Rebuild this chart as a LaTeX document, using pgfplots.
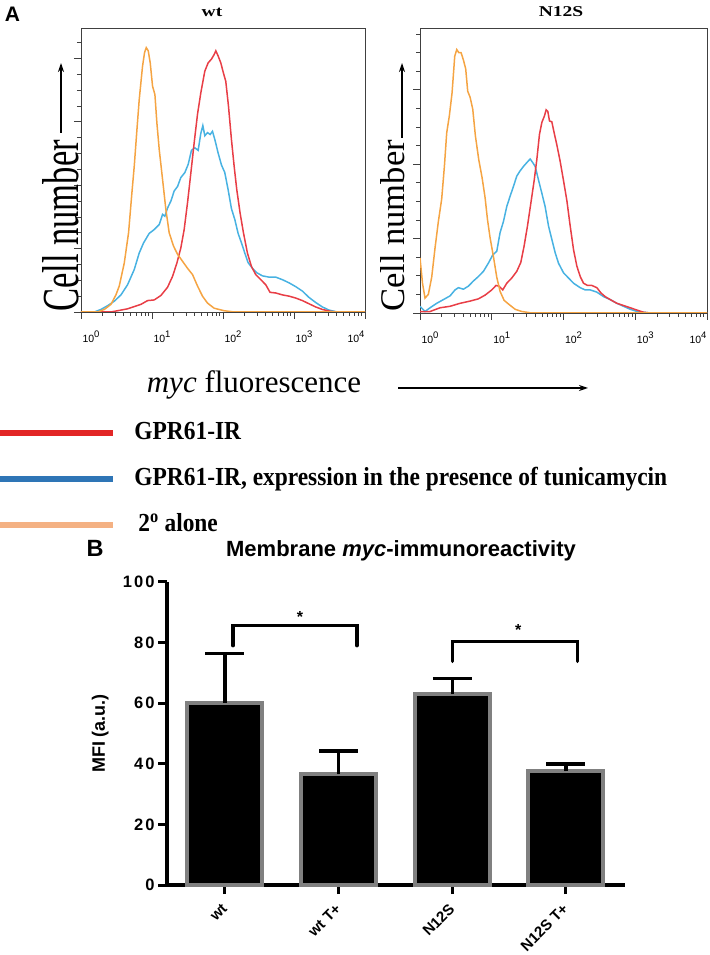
\documentclass[border=0pt]{standalone}
\usepackage{pgfplots}
\pgfplotsset{compat=1.18}
\usepackage{fontspec}
\setmainfont{Liberation Serif}
\newfontfamily\arialfont{Liberation Sans}
\newfontfamily\arialsp[LetterSpace=12]{Liberation Sans}
\usetikzlibrary{arrows.meta}
\definecolor{hred}{RGB}{232,62,70}
\definecolor{hblue}{RGB}{72,178,226}
\definecolor{horange}{RGB}{245,164,67}
\definecolor{lred}{RGB}{226,38,38}
\definecolor{lblue}{RGB}{46,117,182}
\definecolor{lorange}{RGB}{244,177,131}
\definecolor{bargray}{RGB}{128,128,128}
\newcommand\tl[1]{{\arialfont\fontsize{10.5}{10.5}\selectfont 10\raisebox{5pt}{\fontsize{9.5}{9.5}\selectfont #1}}}
\pgfplotsset{hist/.style={scale only axis, xmin=0, xmax=4, ymin=0,
  axis line style={black!75, line width=0.8pt}, tick style={black!75, line width=0.7pt},
  tick align=outside, tick pos=left, major tick length=7pt, minor tick length=4pt,
  xtick={0,1,2,3,4},
  minor xtick={0.301,0.477,0.602,0.699,0.778,0.845,0.903,0.954,1.301,1.477,1.602,1.699,1.778,1.845,1.903,1.954,2.301,2.477,2.602,2.699,2.778,2.845,2.903,2.954,3.301,3.477,3.602,3.699,3.778,3.845,3.903,3.954},
  xticklabels={\tl{0},\tl{1},\tl{2},\tl{3},\hspace*{-38pt}\tl{4}},
  xticklabel style={xshift=10pt, yshift=-8pt},
  ytick={0,1,2,3,4}, yticklabels={},
  every axis plot/.append style={line width=1.5pt, no markers},
  clip=true}}
\begin{document}
\begin{tikzpicture}[x=1pt,y=1pt]
\path[use as bounding box] (0,0) rectangle (709,955);
% ---------------- wt histogram
\begin{axis}[hist, at={(81pt,643pt)}, anchor=south west, width=284pt, height=284pt, ymax=4.48,
  minor ytick={0.25,0.5,0.75,1.25,1.5,1.75,2.25,2.5,2.75,3.25,3.5,3.75,4.25},
  legend style={at={(axis description cs:-0.2958,-0.384)}, anchor=north west, draw=none, fill=none,
    inner sep=0pt, outer sep=0pt, row sep=22pt, column sep=19pt,
    nodes={inner sep=0pt, text height=18pt, text depth=6pt},
    font=\bfseries\fontsize{26}{26}\selectfont},
  legend cell align=left,
  legend image code/.code={\draw[#1] (0pt,0pt) -- (113pt,0pt);}]
\addplot[color=hblue, forget plot] coordinates {(0,0)(0.188,0)(0.281,0.04)(0.375,0.10)(0.469,0.17)(0.563,0.27)(0.656,0.43)(0.750,0.67)(0.820,0.93)(0.881,1.09)(0.961,1.24)(1.031,1.30)(1.102,1.38)(1.149,1.54)(1.181,1.51)(1.219,1.64)(1.266,1.75)(1.313,1.91)(1.360,1.98)(1.406,2.12)(1.463,2.20)(1.510,2.33)(1.556,2.55)(1.603,2.59)(1.650,2.55)(1.688,2.82)(1.716,2.94)(1.744,2.78)(1.782,2.83)(1.819,2.80)(1.852,2.85)(1.885,2.72)(1.931,2.51)(1.978,2.32)(2.025,2.20)(2.072,1.93)(2.119,1.63)(2.166,1.46)(2.213,1.24)(2.260,1.09)(2.307,0.93)(2.353,0.78)(2.414,0.69)(2.475,0.62)(2.555,0.57)(2.649,0.55)(2.743,0.55)(2.836,0.51)(2.930,0.46)(3.024,0.40)(3.118,0.33)(3.211,0.23)(3.305,0.15)(3.399,0.08)(3.493,0.03)(3.610,0)(4,0)};
\addplot[color=hred, forget plot] coordinates {(0,0)(0.422,0)(0.656,0.05)(0.844,0.12)(0.938,0.18)(1.031,0.19)(1.125,0.26)(1.219,0.39)(1.289,0.56)(1.350,0.77)(1.406,1.01)(1.453,1.30)(1.500,1.72)(1.547,2.19)(1.594,2.67)(1.641,3.12)(1.688,3.46)(1.744,3.80)(1.791,3.93)(1.838,3.99)(1.875,4.06)(1.899,4.12)(1.931,4.04)(1.969,3.93)(2.006,3.77)(2.039,3.64)(2.077,3.25)(2.119,2.72)(2.157,2.30)(2.194,1.93)(2.241,1.56)(2.288,1.25)(2.344,0.93)(2.400,0.72)(2.461,0.59)(2.532,0.51)(2.602,0.43)(2.663,0.31)(2.743,0.30)(2.836,0.27)(2.930,0.25)(3.024,0.22)(3.118,0.18)(3.211,0.13)(3.305,0.08)(3.399,0.04)(3.516,0.01)(3.610,0)(4,0)};
\addplot[color=horange, forget plot] coordinates {(0,0)(0.234,0)(0.328,0.04)(0.422,0.12)(0.492,0.27)(0.539,0.41)(0.609,0.77)(0.670,1.25)(0.717,1.88)(0.750,2.30)(0.788,2.88)(0.820,3.35)(0.867,3.88)(0.895,4.09)(0.919,4.17)(0.947,4.12)(0.975,3.93)(1.008,3.56)(1.041,3.43)(1.069,2.98)(1.102,2.56)(1.149,2.09)(1.195,1.62)(1.242,1.25)(1.303,1.04)(1.360,0.91)(1.430,0.80)(1.500,0.69)(1.571,0.59)(1.641,0.41)(1.711,0.25)(1.782,0.14)(1.875,0.06)(2.016,0.02)(2.157,0)(4,0)};
\addlegendimage{lred, line width=5.5pt}
\addlegendentry{\scalebox{0.9}[1]{GPR61-IR}}
\addlegendimage{lblue, line width=5.5pt}
\addlegendentry{\scalebox{0.9}[1]{GPR61-IR, expression in the presence of tunicamycin}}
\addlegendimage{lorange, line width=5.5pt}
\addlegendentry{\scalebox{0.9}[1]{\,2\textsuperscript{o} alone}}
\end{axis}
% ---------------- N12S histogram
\begin{axis}[hist, at={(420pt,642pt)}, anchor=south west, width=287pt, height=285pt, ymax=3.83,
  minor ytick={0.25,0.5,0.75,1.25,1.5,1.75,2.25,2.5,2.75,3.25,3.5,3.75}]
\addplot[color=hblue] coordinates {(0,0.09)(0.070,0.02)(0.140,0.07)(0.233,0.13)(0.326,0.18)(0.419,0.23)(0.488,0.31)(0.535,0.34)(0.605,0.32)(0.674,0.36)(0.744,0.43)(0.814,0.49)(0.884,0.56)(0.953,0.67)(1.014,0.78)(1.070,0.83)(1.116,1.08)(1.163,1.23)(1.209,1.43)(1.256,1.57)(1.302,1.70)(1.349,1.84)(1.395,1.91)(1.442,1.97)(1.488,2.02)(1.535,2.07)(1.572,2.02)(1.605,1.97)(1.651,1.79)(1.698,1.61)(1.744,1.43)(1.791,1.17)(1.837,0.99)(1.884,0.81)(1.930,0.67)(2.000,0.54)(2.070,0.47)(2.140,0.40)(2.233,0.34)(2.302,0.31)(2.372,0.31)(2.465,0.28)(2.558,0.22)(2.651,0.18)(2.744,0.13)(2.837,0.09)(2.930,0.05)(3.023,0.02)(3.116,0.01)(3.209,0)(4,0)};
\addplot[color=hred] coordinates {(0,0.02)(0.140,0.02)(0.279,0.07)(0.419,0.09)(0.558,0.13)(0.698,0.16)(0.814,0.19)(0.907,0.24)(1.000,0.31)(1.060,0.37)(1.102,0.36)(1.153,0.31)(1.209,0.40)(1.279,0.47)(1.349,0.56)(1.405,0.68)(1.451,0.90)(1.498,1.17)(1.544,1.47)(1.591,1.78)(1.628,2.06)(1.665,2.40)(1.698,2.56)(1.735,2.65)(1.758,2.73)(1.781,2.71)(1.805,2.58)(1.837,2.57)(1.870,2.42)(1.907,2.26)(1.953,2.04)(2.000,1.78)(2.047,1.51)(2.093,1.17)(2.140,0.85)(2.186,0.63)(2.233,0.49)(2.279,0.40)(2.335,0.37)(2.395,0.37)(2.465,0.34)(2.521,0.27)(2.581,0.22)(2.651,0.18)(2.744,0.13)(2.837,0.10)(2.930,0.07)(3.023,0.04)(3.116,0.01)(3.209,0)(4,0)};
\addplot[color=horange] coordinates {(0,0.74)(0.035,0.40)(0.070,0.20)(0.116,0.25)(0.163,0.48)(0.209,0.87)(0.256,1.23)(0.302,1.53)(0.340,1.97)(0.372,2.42)(0.409,2.65)(0.447,2.96)(0.484,3.45)(0.512,3.54)(0.540,3.50)(0.572,3.50)(0.605,3.40)(0.637,3.28)(0.665,2.98)(0.698,2.90)(0.735,2.74)(0.772,2.38)(0.819,2.06)(0.865,1.82)(0.907,1.55)(0.940,1.26)(0.977,1.01)(1.023,0.76)(1.070,0.48)(1.116,0.29)(1.172,0.17)(1.247,0.11)(1.326,0.05)(1.419,0.02)(1.558,0)(4,0)};
\end{axis}
% ---------------- histogram annotations
\node[font=\arialfont\bfseries\fontsize{21}{21}\selectfont] at (12.5,940.5) {A};
\node[font=\bfseries\fontsize{15}{15}\selectfont] at (212,943) {\scalebox{1.3}[1]{wt}};
\node[font=\bfseries\fontsize{15}{15}\selectfont] at (561,943) {\scalebox{1.3}[1]{N12S}};
\node[rotate=90, font=\fontsize{34.6}{34.6}\selectfont] at (60.5,729) {\scalebox{1}[1.5]{Cell number}};
\node[rotate=90, font=\fontsize{34.6}{34.6}\selectfont] at (392.5,729) {Cell number};
\draw[line width=1.8pt, -{Stealth[length=9pt,width=6pt]}] (61,822) -- (61,892);
\draw[line width=1.8pt, -{Stealth[length=9pt,width=6pt]}] (402,817) -- (402,892);
\node[font=\fontsize{31}{31}\selectfont] at (254,570) {\textit{myc} fluorescence};
\draw[line width=1.8pt, -{Stealth[length=9pt,width=6pt]}] (398,567) -- (588,567);
% ---------------- bar chart
\node[font=\arialfont\bfseries\fontsize{23.5}{23.5}\selectfont] at (95,407) {B};
\node[font=\arialfont\bfseries\fontsize{22}{22}\selectfont] at (401,404) {Membrane \textit{myc}-immunoreactivity};
\begin{axis}[at={(167pt,70pt)}, anchor=south west, scale only axis, width=458pt, height=303pt,
  xmin=-0.51, xmax=3.52, ymin=0, ymax=100,
  axis x line=bottom, axis y line=left, axis line style={line width=3.5pt, -},
  tick align=outside, major tick length=9pt, tick style={line width=3pt, black},
  xtick={0,1,2,3}, xticklabels={wt, wt T+, N12S, N12S T+},
  xticklabel style={font=\arialfont\bfseries\fontsize{15}{15}\selectfont, xshift=2pt, yshift=-10pt, rotate=45, anchor=east},
  ytick={0,20,40,60,80,100}, yticklabels={0,20,40,60,80,100},
  yticklabel style={font=\arialsp\bfseries\fontsize{16.5}{16.5}\selectfont},
  ylabel={MFI (a.u.)},
  ylabel style={font=\arialfont\bfseries\fontsize{18}{18}\selectfont, at={(axis description cs:-0.146,0.5)}, anchor=center},
  clip=false]
\addplot[ybar, bar width=75pt, fill=black, draw=bargray, line width=4pt,
  error bars/.cd, y dir=plus, y explicit,
  error bar style={line width=3.5pt, black},
  error mark options={rotate=90, mark size=19.5pt, line width=3.5pt, black}]
  coordinates {(0,60.2) +- (0,16.2) (1,36.5) +- (0,7.7) (2,63.0) +- (0,5.1) (3,37.5) +- (0,2.4)};
\addplot[line width=3.5pt, black, line cap=round] coordinates {(0.07,79) (0.07,85.7) (1.16,85.7) (1.16,79)};
\addplot[line width=3.5pt, black, line cap=round] coordinates {(2.0,73.8) (2.0,80.4) (3.1,80.4) (3.1,73.8)};
\node[font=\arialfont\bfseries\fontsize{16}{16}\selectfont] at (axis cs:0.66,88.5) {*};
\node[font=\arialfont\bfseries\fontsize{16}{16}\selectfont] at (axis cs:2.58,84.3) {*};
\end{axis}
\end{tikzpicture}
\end{document}
